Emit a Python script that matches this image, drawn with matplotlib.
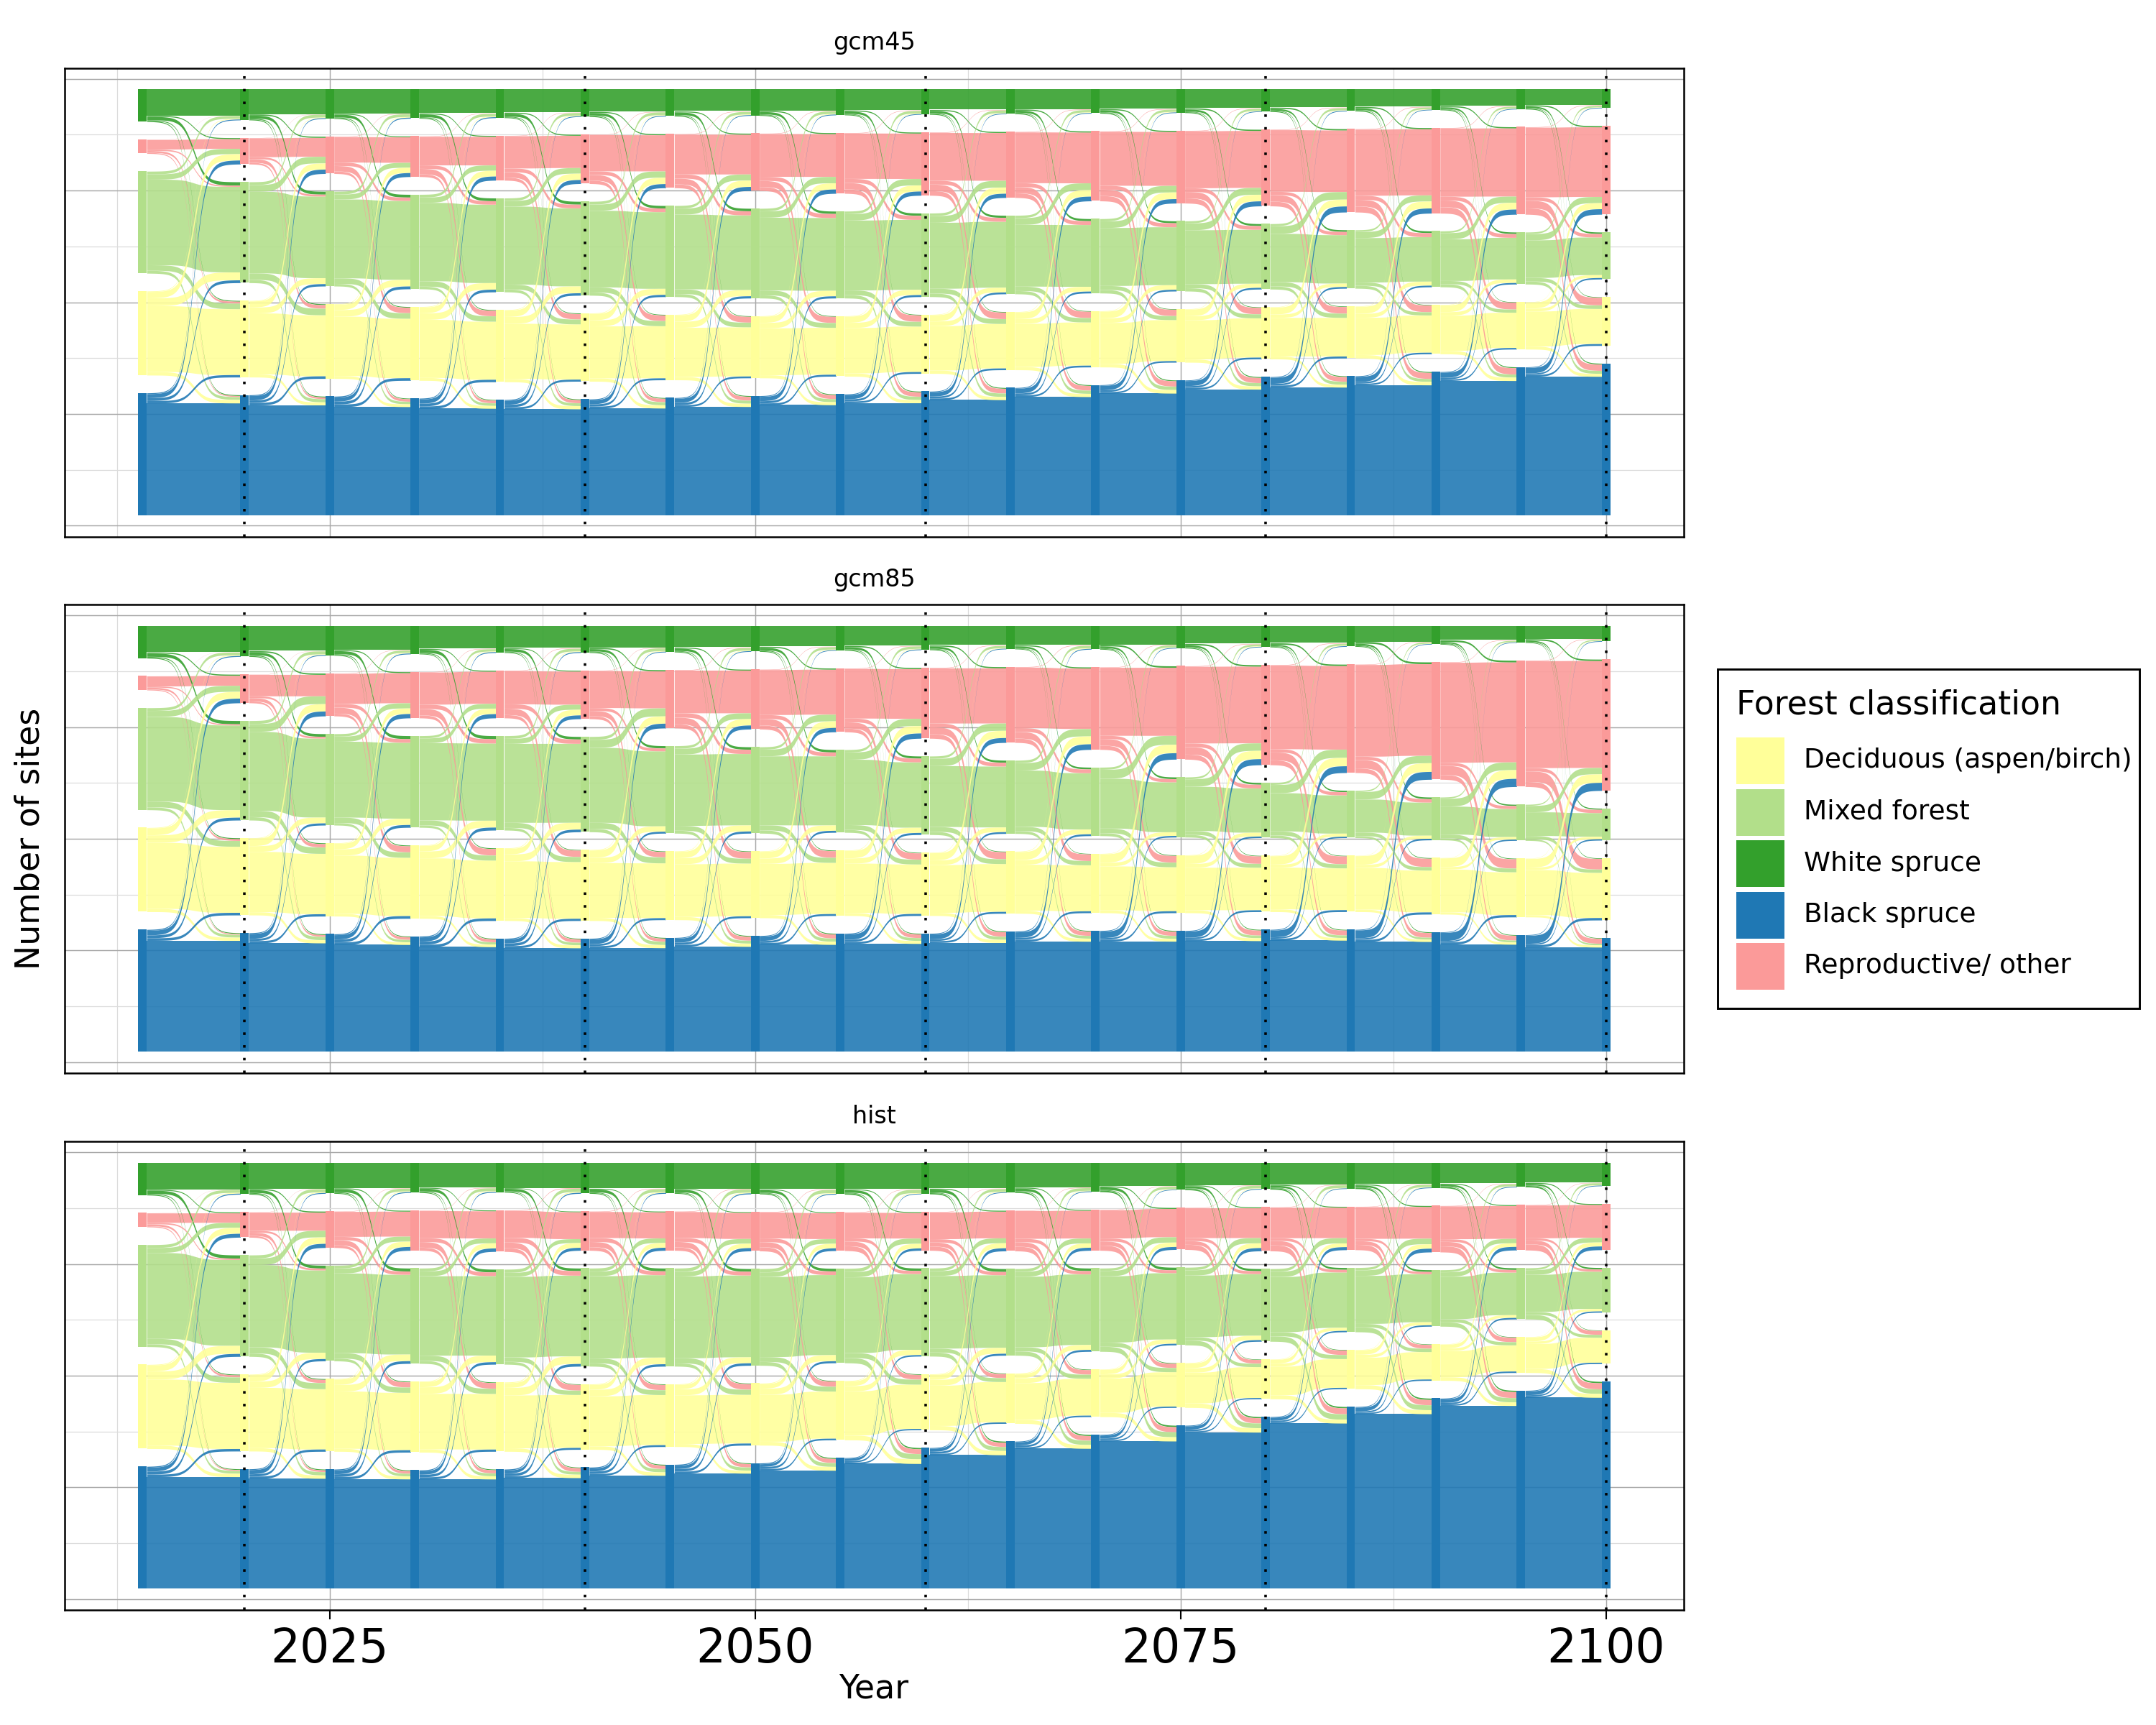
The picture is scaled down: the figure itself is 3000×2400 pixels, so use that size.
import numpy as np
import matplotlib.pyplot as plt
from matplotlib.patches import Rectangle

# years of the model output
years = [2014, 2020, 2025, 2030, 2035, 2040, 2045, 2050, 2055, 2060,
         2065, 2070, 2075, 2080, 2085, 2090, 2095, 2100]

# classes in stack order (top to bottom) and their colours
classes = ['White spruce', 'Reproductive/ other', 'Mixed forest',
           'Deciduous (aspen/birch)', 'Black spruce']
colors = ['#33a02c', '#fb9a99', '#b2df8a', '#ffff99', '#1f78b4']
legend_order = ['Deciduous (aspen/birch)', 'Mixed forest', 'White spruce',
                'Black spruce', 'Reproductive/ other']

scenarios = ['gcm45', 'gcm85', 'hist']

# number of sites per class
gcm45_white = [116, 110, 105, 104, 102, 98, 96, 94, 92, 90, 88, 86, 84, 80, 78, 74, 71, 67]
gcm45_repro = [50, 94, 133, 145, 160, 176, 193, 205, 217, 226, 236, 250, 260, 274, 298, 306, 313, 317]
gcm45_mixed = [365, 361, 339, 338, 336, 336, 326, 321, 311, 299, 281, 266, 251, 234, 209, 200, 186, 168]
gcm45_decid = [301, 274, 267, 264, 258, 244, 234, 222, 216, 211, 208, 201, 191, 186, 186, 176, 169, 174]
gcm45_black = [438, 431, 426, 419, 414, 416, 421, 428, 434, 444, 457, 467, 484, 496, 499, 514, 531, 544]

gcm85_white = [116, 110, 106, 101, 96, 96, 94, 92, 88, 86, 83, 84, 80, 76, 74, 66, 60, 56]
gcm85_repro = [50, 102, 153, 165, 170, 173, 208, 214, 228, 253, 271, 295, 334, 358, 388, 420, 452, 470]
gcm85_mixed = [365, 356, 327, 328, 338, 341, 313, 309, 296, 281, 262, 245, 215, 197, 169, 153, 129, 114]
gcm85_decid = [301, 276, 262, 262, 260, 254, 246, 239, 234, 226, 222, 212, 207, 201, 201, 202, 210, 222]
gcm85_black = [438, 426, 422, 414, 406, 406, 409, 416, 424, 424, 432, 434, 434, 438, 438, 429, 419, 408]

hist_white = [116, 113, 110, 107, 106, 110, 110, 112, 113, 112, 107, 104, 97, 95, 93, 90, 87, 83]
hist_repro = [50, 90, 130, 143, 148, 140, 140, 140, 138, 138, 145, 146, 150, 157, 155, 166, 162, 165]
hist_mixed = [365, 363, 342, 341, 340, 351, 351, 346, 338, 315, 310, 298, 278, 260, 230, 202, 183, 160]
hist_decid = [301, 275, 260, 254, 248, 234, 224, 222, 212, 200, 180, 170, 160, 142, 140, 130, 128, 120]
hist_black = [438, 429, 428, 425, 428, 435, 445, 450, 469, 505, 528, 552, 585, 616, 652, 682, 710, 742]

data = {
    'gcm45': [gcm45_white, gcm45_repro, gcm45_mixed, gcm45_decid, gcm45_black],
    'gcm85': [gcm85_white, gcm85_repro, gcm85_mixed, gcm85_decid, gcm85_black],
    'hist': [hist_white, hist_repro, hist_mixed, hist_decid, hist_black],
}

# rough share of sites going from a class (row) to each class (stack order) per step
move_white = [0.86, 0.03, 0.07, 0.02, 0.02]
move_repro = [0.01, 0.74, 0.07, 0.12, 0.06]
move_mixed = [0.04, 0.07, 0.80, 0.06, 0.03]
move_decid = [0.01, 0.09, 0.08, 0.78, 0.04]
move_black = [0.01, 0.04, 0.02, 0.02, 0.91]
seed = np.array([move_white, move_repro, move_mixed, move_decid, move_black])

space = 64
node_w = 0.5


def balance(seed, r, c, n_iter=60):
    # fit the shares to the class totals of both years
    f = seed * r[:, None]
    c = c * r.sum() / c.sum()
    for _ in range(n_iter):
        f *= (c / f.sum(0))[None, :]
        f *= (r / f.sum(1))[:, None]
    return f


def stack(vals):
    total = sum(vals) + space * (len(vals) - 1)
    y = total / 2
    tops = []
    for v in vals:
        tops.append(y)
        y -= v + space
    return tops


def sigmoid(x0, x1, y0, y1, smooth=8, n=150):
    t = np.linspace(-smooth, smooth, n)
    s = 1 / (1 + np.exp(-t))
    return x0 + (t + smooth) / (2 * smooth) * (x1 - x0), y0 + s * (y1 - y0)


W, H = 3000, 2400
fig = plt.figure(figsize=(10, 8), dpi=300)
panel_tops = [94.5, 841, 1588]
panel_h = 652

axes = []
for p, name in enumerate(scenarios):
    ax = fig.add_axes([90 / W, 1 - (panel_tops[p] + panel_h) / H, 2253 / W, panel_h / H])
    axes.append(ax)
    vals = np.array(data[name], dtype=float)
    tops = [stack(vals[:, k]) for k in range(len(years))]

    for k in range(len(years) - 1):
        f = balance(seed, vals[:, k], vals[:, k + 1])
        x0 = years[k] + node_w / 2
        x1 = years[k + 1] - node_w / 2
        src = {}
        for i in range(5):
            y = tops[k][i]
            for j in range(5):
                src[i, j] = (y, y - f[i, j])
                y -= f[i, j]
        dst = {}
        for j in range(5):
            y = tops[k + 1][j]
            sc = vals[j, k + 1] / f[:, j].sum()
            for i in range(5):
                h = f[i, j] * sc
                dst[i, j] = (y, y - h)
                y -= h
        order = [(i, i) for i in range(5)] + [(i, j) for i in range(5) for j in range(5) if i != j]
        for i, j in order:
            xs, yt = sigmoid(x0, x1, src[i, j][0], dst[i, j][0])
            _, yb = sigmoid(x0, x1, src[i, j][1], dst[i, j][1])
            ax.fill_between(xs, yb, yt, color=colors[i], alpha=0.89, lw=0, zorder=2)

    for k in range(len(years)):
        for i in range(5):
            ax.add_patch(Rectangle((years[k] - node_w / 2, tops[k][i] - vals[i, k]),
                                   node_w, vals[i, k], color=colors[i], lw=0, zorder=3))

    for x in [2020, 2040, 2060, 2080, 2100]:
        ax.axvline(x, color='black', lw=0.85, ls=(0, (1, 4)), zorder=5)

    ax.set_xlim(2009.425, 2104.575)
    ax.set_ylim(-839, 839)
    ax.set_xticks([2025, 2050, 2075, 2100])
    ax.set_xticks([2012.5, 2037.5, 2062.5, 2087.5], minor=True)
    ax.set_yticks([-800, -400, 0, 400, 800])
    ax.set_yticks([-600, -200, 200, 600], minor=True)
    ax.grid(which='major', color='#a8a8a8', lw=0.35, zorder=0)
    ax.grid(which='minor', color='#dcdcdc', lw=0.3, zorder=0)
    ax.set_axisbelow(True)
    ax.tick_params(axis='y', which='both', length=0, labelleft=False)
    ax.tick_params(axis='x', which='minor', length=0)
    if p < 2:
        ax.tick_params(axis='x', which='major', length=0, labelbottom=False)
    else:
        ax.tick_params(axis='x', which='major', length=3, width=0.5, pad=2.5, labelsize=15.5)
    for s in ax.spines.values():
        s.set_linewidth(0.6)
        s.set_color('black')
    ax.text(0.5, 1 + 34.5 / panel_h, name, transform=ax.transAxes,
            ha='center', va='center', fontsize=8)

fig.text(42 / W, 1 - 1167 / H, 'Number of sites', rotation=90,
         ha='center', va='center', fontsize=11)
fig.text(1216 / W, 1 - 2350 / H, 'Year', ha='center', va='center', fontsize=11)

# legend
fig.add_artist(Rectangle((2390 / W, 1 - 1403 / H), 587 / W, 472 / H,
                         transform=fig.transFigure, fill=False, ec='black', lw=0.7))
fig.text(2416 / W, 1 - 994 / H, 'Forest classification', ha='left',
         va='baseline', fontsize=11)
for n, lab in enumerate(legend_order):
    top = 1026 + n * 71.5
    fig.add_artist(Rectangle((2416 / W, 1 - (top + 65) / H), 67 / W, 65 / H,
                             transform=fig.transFigure,
                             color=colors[classes.index(lab)], lw=0))
    fig.text(2510 / W, 1 - (top + 32.5) / H, lab, ha='left', va='center', fontsize=9)

fig.savefig('out.png', dpi=300)
